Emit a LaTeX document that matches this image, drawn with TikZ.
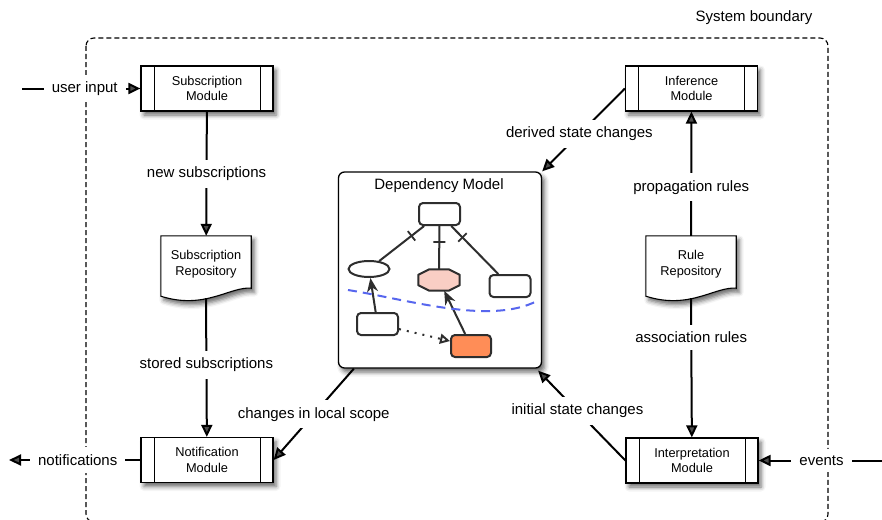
\documentclass[tikz,border=0pt]{standalone}
\usepackage{fontspec}
\setmainfont{Liberation Sans}
\usetikzlibrary{arrows.meta,shadows.blur,decorations.markings,shapes.geometric}

\definecolor{inkgray}{HTML}{2E2E2E}
\definecolor{octfill}{HTML}{F9CEC4}
\definecolor{hotfill}{HTML}{FF8D57}
\definecolor{cutblue}{HTML}{5766EE}

\tikzset{
  softshadow/.style={blur shadow={shadow xshift=3pt, shadow yshift=-4pt,
      shadow blur radius=4.5pt, shadow opacity=60}},
  module/.style={draw=black, fill=white, line width=1.2pt,
    minimum width=132pt, minimum height=45pt, inner sep=0pt, align=center,
    font=\fontsize{12.8}{15.5}\selectfont, softshadow,
    path picture={\draw[line width=1pt]
      ([xshift=13pt]path picture bounding box.north west) --
      ([xshift=13pt]path picture bounding box.south west)
      ([xshift=-13pt]path picture bounding box.north east) --
      ([xshift=-13pt]path picture bounding box.south east);}},
  repo/.style={minimum width=90pt, minimum height=64pt, inner sep=0pt,
    align=center, font=\fontsize{12.8}{15.5}\selectfont},
  docline/.style={draw=black, fill=white, line width=1.1pt, softshadow},
  lbl/.style={fill=white, font=\fontsize{15}{17}\selectfont,
    inner xsep=8pt, inner ysep=7pt},
  flow/.style={line width=2pt, -{Triangle[length=12pt,width=11pt]}},
  depbox/.style={draw=black, fill=white, line width=1.3pt, rounded corners=6pt,
    minimum width=203pt, minimum height=196pt, softshadow},
  minibox/.style={draw=inkgray, line width=2pt, rounded corners=4pt,
    minimum width=41pt, minimum height=22pt, inner sep=0pt},
  minilink/.style={draw=inkgray, line width=2pt},
  barred/.style={postaction=decorate, decoration={markings,
      mark=at position 16pt with {\draw[inkgray, line width=1.8pt] (0,-6pt) -- (0,6pt);}}},
  sharp/.style={-{Stealth[length=14pt,width=11pt,inset=4.5pt]}},
}

% document-shaped outline with a wavy lower edge around a named node
\newcommand\docoutline[1]{%
  \path[docline] (#1.north west) -- (#1.north east) -- ([yshift=12pt]#1.south east)
    .. controls ([xshift=-21pt,yshift=14pt]#1.south east)
       and ([xshift=44pt,yshift=-10pt]#1.south west) .. ([yshift=4pt]#1.south west)
    -- cycle;}

\begin{document}
\begin{tikzpicture}[x=1pt,y=-1pt]
\useasboundingbox (0,0) rectangle (882,519);

% system boundary
\draw[line width=1.1pt, dash pattern=on 5pt off 3pt, rounded corners=8pt]
  (86,38) rectangle (828,522);
\node[font=\fontsize{15}{17}\selectfont] (sysb) at (754,18) {System boundary};

% modules
\node[module] (sub)    at (207,88.5) {Subscription\\Module};
\node[module] (inf)    at (691.5,88.5) {Inference\\Module};
\node[module] (noti)   at (207,460) {Notification\\Module};
\node[module] (interp) at (692,460.5) {Interpretation\\Module};

% repositories
\node[repo] (srepo) at (206,268) {};
\docoutline{srepo}
\node[repo] (srepotext) at (206,264) {Subscription\\Repository};
\node[repo] (rrepo) at (691,268) {};
\docoutline{rrepo}
\node[repo] (rrepotext) at (691,264) {Rule\\Repository};

% dependency model
\node[depbox] (dep) at (440,270) {};
\node[font=\fontsize{15}{17}\selectfont] (deptitle) at (439,186) {Dependency Model};
\node[minibox] (top) at (439.5,214) {};
\node[draw=inkgray, line width=2pt, ellipse, minimum width=41pt,
      minimum height=16pt, inner sep=0pt] (ell) at (369,269) {};
\node[minimum width=41pt, minimum height=21pt, inner sep=0pt] (oct) at (439,280) {};
\filldraw[fill=octfill, draw=inkgray, line width=2pt, line join=round]
  ([xshift=11pt]oct.north west) -- ([xshift=-11pt]oct.north east)
  -- ([yshift=-5.5pt]oct.north east) -- ([yshift=5.5pt]oct.south east)
  -- ([xshift=-11pt]oct.south east) -- ([xshift=11pt]oct.south west)
  -- ([yshift=5.5pt]oct.south west) -- ([yshift=-5.5pt]oct.north west) -- cycle;
\node[minibox] (rbox) at (510,286) {};
\node[minibox] (lbox) at (377.5,324) {};
\node[minibox, fill=hotfill, minimum width=40pt] (hot) at (471,346) {};

\draw[minilink, barred] (top) -- (ell);
\draw[minilink, barred] (top) -- (oct);
\draw[minilink, barred] (top) -- (rbox);
\draw[minilink, sharp] (lbox) -- (ell);
\draw[minilink, sharp] (hot) -- (oct);
\draw[minilink, dash pattern=on 2pt off 6pt,
      -{Triangle[open,length=10pt,width=10pt]}] (lbox) -- (hot);
\draw[cutblue, line width=2pt, dash pattern=on 9pt off 6pt]
  (348,290) .. controls (410,300) and (490,325) .. (537,301);

% main flows
\draw[flow] (sub) -- node[lbl] {new subscriptions} (srepo);
\draw[flow] ([yshift=2pt]srepo.south) -- node[lbl, pos=0.48] {stored subscriptions} (noti);
\draw[flow] (rrepo) -- node[lbl, pos=0.39] {propagation rules} (inf);
\draw[flow] ([yshift=2pt]rrepo.south) -- node[lbl, pos=0.28] {association rules} (interp);

\draw[flow] (inf.west) -- node[lbl, pos=0.55] {derived state changes} (dep.north east);
\draw[flow] ([xshift=16pt]dep.south west) -- node[lbl] {changes in local scope} (noti.east);
\draw[flow] (interp.west) -- node[lbl, pos=0.55] {initial state changes}
  ([xshift=-4pt,yshift=-2pt]dep.south east);

% external inputs and outputs
\coordinate (uin) at (22,88.5);
\coordinate (nout) at (9,460);
\coordinate (evin) at (882,460.5);
\draw[flow] (uin) -- node[lbl, pos=0.53] {user input} (sub.west);
\draw[flow] (noti.west) -- node[lbl, pos=0.477] {notifications} (nout);
\draw[flow] (evin) -- node[lbl, pos=0.49] {events} (interp.east);
\end{tikzpicture}
\end{document}
